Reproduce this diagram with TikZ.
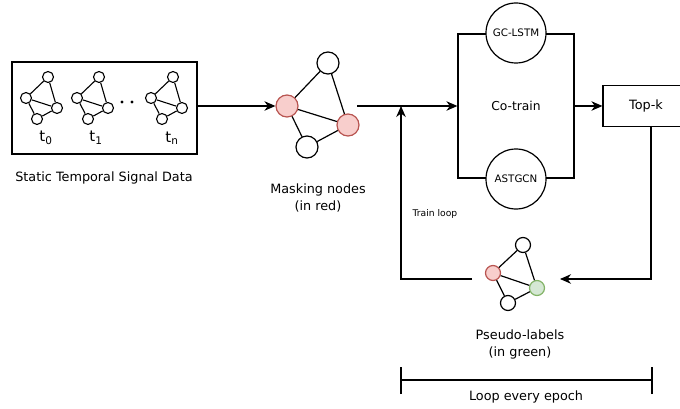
\documentclass[tikz,border=0pt]{standalone}
\usepackage{fontspec}
\setmainfont{DejaVu Sans}
\usetikzlibrary{arrows.meta}
\definecolor{redfill}{HTML}{F8CECC}
\definecolor{redline}{HTML}{B85450}
\definecolor{greenfill}{HTML}{D5E8D4}
\definecolor{greenline}{HTML}{82B366}
\begin{document}
\begin{tikzpicture}[x=1pt,y=-1pt,
  every node/.style={inner sep=0pt},
  ln/.style={line width=1.2pt, black},
  arr/.style={ln,-{Stealth[length=11pt,width=9.5pt,inset=3.5pt]}},
  sn/.style={circle,draw,line width=1.1pt,fill=white,minimum size=11pt},
  mn/.style={circle,draw,line width=1.2pt,fill=white,minimum size=22pt},
  pn/.style={circle,draw,line width=1.2pt,fill=white,minimum size=15pt},
  rednode/.style={fill=redfill,draw=redline},
  greennode/.style={fill=greenfill,draw=greenline},
  txt/.style={font=\fontsize{12.8}{17}\selectfont},
  midtxt/.style={font=\fontsize{10.3}{12}\selectfont},
  smalltxt/.style={font=\fontsize{9.2}{11}\selectfont},
  ttxt/.style={font=\fontsize{15}{17}\selectfont},
]
\clip (0,0) rectangle (680,409);
\useasboundingbox (0,0) rectangle (680,409);

% left data box
\node[draw,line width=1.2pt,minimum width=185pt,minimum height=92pt] (data) at (104.5,108) {};
\foreach \i/\dx in {1/0,2/51,3/125}{
  \node[sn] (g\i-t) at (48+\dx,77) {};
  \node[sn] (g\i-l) at (26+\dx,98) {};
  \node[sn] (g\i-r) at (57+\dx,108) {};
  \node[sn] (g\i-b) at (37+\dx,119) {};
  \draw[ln,line width=1.1pt] (g\i-t)--(g\i-l) (g\i-t)--(g\i-r) (g\i-l)--(g\i-r) (g\i-l)--(g\i-b) (g\i-b)--(g\i-r);
}
\fill (122,102) circle (1.7pt) (132,102) circle (1.7pt);
\node[ttxt] (t0) at (46,138) {t\textsubscript{0}};
\node[ttxt] (t1) at (96,138) {t\textsubscript{1}};
\node[ttxt] (tn) at (172,138) {t\textsubscript{n}};
\node[txt] (datalabel) at (104,178) {Static Temporal Signal Data};

% masking graph
\node[mn] (m-t) at (328,63) {};
\node[mn,rednode] (m-l) at (287,106) {};
\node[mn,rednode] (m-r) at (348,125) {};
\node[mn] (m-b) at (307,147) {};
\draw[ln] (m-t)--(m-l) (m-t)--(m-r) (m-l)--(m-r) (m-l)--(m-b) (m-b)--(m-r);
\node[txt,align=center] (masklabel) at (318,198) {Masking nodes\\(in red)};
\draw[arr] (data.east |- m-l.west) -- (m-l.west);

% co-train block
\node[draw,line width=1.2pt,minimum width=116pt,minimum height=144pt,font=\fontsize{12.3}{14}\selectfont] (cotrain) at (516,106) {Co-train};
\node[circle,draw,line width=1.2pt,fill=white,minimum size=60pt,midtxt] (gclstm) at (516,33) {GC-LSTM};
\node[circle,draw,line width=1.2pt,fill=white,minimum size=60pt,midtxt] (astgcn) at (516,179) {ASTGCN};

\coordinate (mout) at (357,106);
\coordinate (junc) at (401,106);
\draw[arr] (mout) -- (cotrain.west);

% top-k
\node[draw,line width=1.2pt,minimum width=86pt,minimum height=41pt,txt] (topk) at (646,106) {Top-k};
\draw[arr] (cotrain.east) -- (topk.west);

% pseudo-label graph
\node[pn] (p-t) at (523,245) {};
\node[pn,rednode] (p-l) at (493,273) {};
\node[pn,greennode] (p-r) at (537,288) {};
\node[pn] (p-b) at (508,303) {};
\draw[ln] (p-t)--(p-l) (p-t)--(p-r) (p-l)--(p-r) (p-l)--(p-b) (p-b)--(p-r);
\node[txt,align=center] (pseudolabel) at (520,344) {Pseudo-labels\\(in green)};

\coordinate (tkout) at (651,126);
\coordinate (pin) at (560,279);
\draw[arr] (tkout) |- (pin);
\coordinate (pout) at (472,279);
\draw[arr] (pout) -| (junc);
\node[smalltxt] (trainloop) at (435,214) {Train loop};

% epoch bracket
\coordinate (bl) at (401,380);
\coordinate (br) at (652,380);
\draw[ln] (bl) -- (br);
\draw[ln] ([yshift=-14pt]bl) -- ([yshift=13pt]bl);
\draw[ln] ([yshift=-14pt]br) -- ([yshift=13pt]br);
\node[txt] (epochlabel) at (526,397) {Loop every epoch};
\end{tikzpicture}
\end{document}
